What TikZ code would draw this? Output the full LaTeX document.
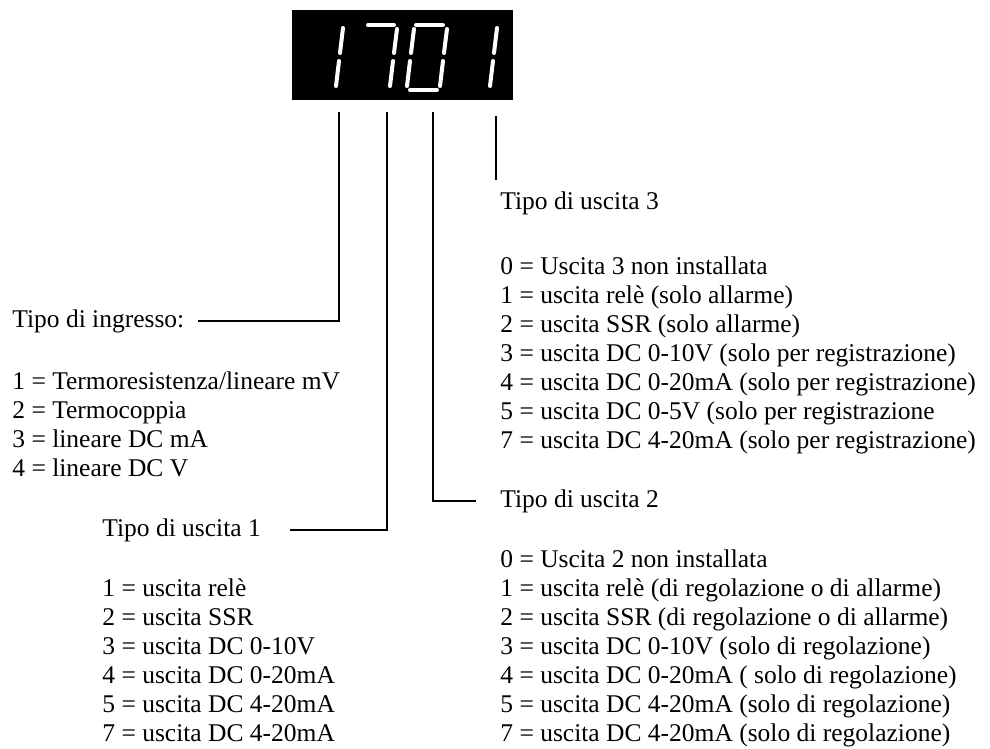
\documentclass[tikz,border=0pt]{standalone}
\usepackage{fontspec}
\setmainfont{Liberation Serif}
\usetikzlibrary{positioning}

\begin{document}
\begin{tikzpicture}[x=0.5pt,y=-0.5pt,
  txt/.style={inner sep=0pt,anchor=north west,align=left,font=\fontsize{12.75}{14.5}\selectfont},
  lead/.style={line width=1.2pt},
  seg/.style={white,line width=2pt,line cap=round}]
\useasboundingbox (0,0) rectangle (990,749);
% display with the code
\node[fill=black,minimum width=110.5pt,minimum height=45pt,inner sep=0pt] (disp) at (402.5,55) {};
\foreach \xa/\ya/\xb/\yb in {343/28/340/53,339/61/336/86,
  368/25/394/25,397/29/394/53,393/61/390/86,
  416/25/443/25,447/29/444/53,443/61/440/86,410/90/437/90,407/86/410/61,411/53/414/29,
  497/28/494/53,493/61/490/86}
  \draw[seg] (\xa,\ya) -- (\xb,\yb);
\coordinate (t1) at (339,112);
\coordinate (t2) at (387,112);
\coordinate (t3) at (433,112);
\coordinate (t4) at (496,116);
\coordinate (e4) at (496,180);
% left side
\node[txt] (ing) at (12,309) {Tipo di ingresso:};
\node[txt] (inglist) at (12,371) {1 = Termoresistenza/lineare mV\\2 = Termocoppia\\3 = lineare DC mA\\4 = lineare DC V};
\node[txt] (u1) at (102,518) {Tipo di uscita 1};
\node[txt] (u1list) at (102,578) {1 = uscita relè\\2 = uscita SSR\\3 = uscita DC 0-10V\\4 = uscita DC 0-20mA\\5 = uscita DC 4-20mA\\7 = uscita DC 4-20mA};
% right side
\node[txt] (u3) at (500,191) {Tipo di uscita 3};
\node[txt] (u3list) at (500,256) {0 = Uscita 3 non installata\\1 = uscita relè (solo allarme)\\2 = uscita SSR (solo allarme)\\3 = uscita DC 0-10V (solo per registrazione)\\4 = uscita DC 0-20mA (solo per registrazione)\\5 = uscita DC 0-5V (solo per registrazione\\7 = uscita DC 4-20mA (solo per registrazione)};
\node[txt] (u2) at (500,489) {Tipo di uscita 2};
\node[txt] (u2list) at (500,549) {0 = Uscita 2 non installata\\1 = uscita relè (di regolazione o di allarme)\\2 = uscita SSR (di regolazione o di allarme)\\3 = uscita DC 0-10V (solo di regolazione)\\4 = uscita DC 0-20mA ( solo di regolazione)\\5 = uscita DC 4-20mA (solo di regolazione)\\7 = uscita DC 4-20mA (solo di regolazione)};
% leaders
\draw[lead] (t1) |- ([xshift=6.5pt]ing.east);
\draw[lead] (t2) |- ([xshift=14.5pt]u1.east);
\draw[lead] (t3) |- ([xshift=-12pt]u2.west);
\draw[lead] (t4) -- (e4);
\end{tikzpicture}
\end{document}
